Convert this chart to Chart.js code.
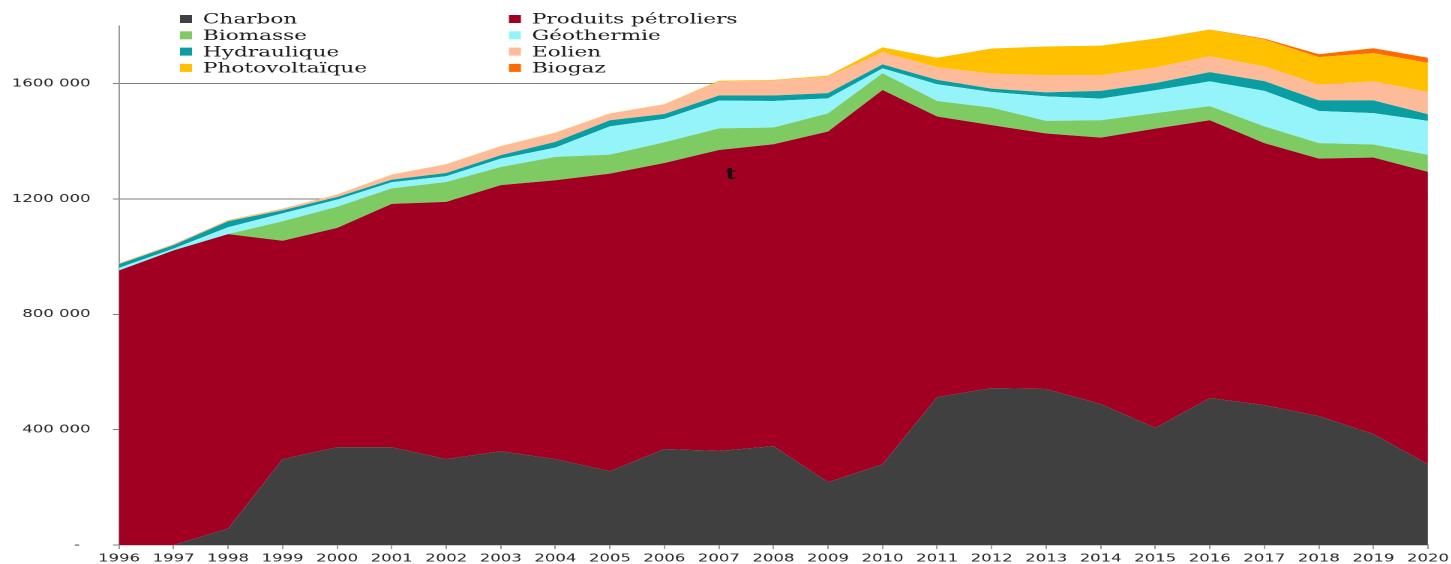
<!DOCTYPE html>
<html lang="fr">
<head>
<meta charset="utf-8">
<title>Consommation d'énergie par source</title>
<script src="https://cdn.jsdelivr.net/npm/chart.js@4.4.1/dist/chart.umd.min.js"></script>
<style>
    html, body { margin: 0; padding: 0; background: #fff; overflow: hidden; }
    /* the chart is drawn narrow and widened, which gives the broad lettering */
    #wrap { position: relative; width: 967.33px; height: 564px; transform: scaleX(1.5); transform-origin: 0 0; }
</style>
</head>
<body>
<div id="wrap"><canvas id="energy-chart"></canvas></div>
<script>
// Years on the x axis
const years = ['1996', '1997', '1998', '1999', '2000', '2001', '2002', '2003', '2004', '2005',
    '2006', '2007', '2008', '2009', '2010', '2011', '2012', '2013', '2014', '2015',
    '2016', '2017', '2018', '2019', '2020'];

// Consumption by source, stacked from bottom to top
const charbon = [0, 0, 57000, 298000, 339000, 339000, 298000, 325000, 298000, 256000,
    333000, 326000, 343000, 218000, 280000, 513000, 544000, 541000, 489000, 406000,
    510000, 485000, 447000, 385000, 280000];
const produitsPetroliers = [952000, 1022000, 1021000, 757000, 761000, 844000, 892000, 923000, 967000, 1032000,
    992000, 1044000, 1047000, 1216000, 1298000, 973000, 912000, 886000, 924000, 1038000,
    963000, 909000, 893000, 959000, 1014000];
const biomasse = [0, 0, 0, 68000, 73000, 54000, 69000, 63000, 81000, 66000,
    72000, 75000, 58000, 63000, 58000, 54000, 61000, 44000, 60000, 54000,
    49000, 58000, 54000, 45000, 59000];
const geothermie = [9000, 6000, 24000, 27000, 25000, 21000, 20000, 29000, 32000, 98000,
    81000, 96000, 92000, 52000, 17000, 58000, 54000, 85000, 75000, 79000,
    86000, 123000, 111000, 109000, 118000];
const hydraulique = [13000, 12000, 21000, 11000, 9000, 9000, 11000, 12000, 20000, 21000,
    17000, 18000, 19000, 18000, 14000, 15000, 12000, 14000, 27000, 25000,
    32000, 34000, 37000, 44000, 23000];
const eolien = [2000, 3000, 3000, 5000, 8000, 17000, 30000, 31000, 31000, 23000,
    33000, 48000, 52000, 57000, 42000, 44000, 52000, 59000, 54000, 54000,
    55000, 51000, 55000, 66000, 77000];
const photovoltaique = [1000, 1000, 1000, 1000, 1000, 1000, 1000, 1000, 1000, 1000,
    1000, 3000, 2000, 4000, 17000, 33000, 87000, 100000, 103000, 100000,
    92000, 93000, 95000, 98000, 101000];
const biogaz = [0, 0, 0, 0, 0, 0, 0, 0, 0, 0,
    0, 0, 0, 0, 0, 0, 0, 0, 0, 0,
    1000, 3000, 10000, 17000, 18000];

const seriesNames = ['Charbon', 'Produits pétroliers', 'Biomasse', 'Géothermie',
    'Hydraulique', 'Eolien', 'Photovoltaïque', 'Biogaz'];
const seriesData = [charbon, produitsPetroliers, biomasse, geothermie,
    hydraulique, eolien, photovoltaique, biogaz];
const seriesColors = ['#404040', '#a10023', '#7ecb63', '#94f4f9',
    '#0a9da2', '#fdbb99', '#ffc000', '#ff6a00'];

// Y axis ticks
const yTickValues = [0, 400000, 800000, 1200000, 1600000];
const yTickLabels = ['-  ', '400 000', '800 000', '1200 000', '1600 000'];

// Two-column legend above the plot, filled row by row
const legendPlugin = {
    id: 'twoColumnLegend',
    afterDraw(chart) {
        const ctx = chart.ctx;
        const colX = [120, 339.3];
        ctx.save();
        ctx.font = '14.4px "DejaVu Serif"';
        ctx.textBaseline = 'middle';
        ctx.textAlign = 'left';
        chart.data.datasets.forEach((ds, i) => {
            const x = colX[i % 2];
            const y = 19 + Math.floor(i / 2) * 16.3;
            ctx.fillStyle = ds.backgroundColor;
            ctx.fillRect(x, y - 4, 8, 8);
            ctx.fillStyle = '#1a1a1a';
            ctx.fillText(ds.label, x + 15.3, y + 1);
        });
        ctx.restore();
    }
};

// Stray letter sitting over the oil area
const strayLetterPlugin = {
    id: 'strayLetter',
    afterDatasetsDraw(chart) {
        const ctx = chart.ctx;
        const x = chart.scales.x.getPixelForValue(11) + 8;
        const y = chart.scales.y.getPixelForValue(1270000);
        ctx.save();
        ctx.font = 'bold 16px "DejaVu Serif"';
        ctx.fillStyle = '#111';
        ctx.textAlign = 'center';
        ctx.textBaseline = 'alphabetic';
        ctx.fillText('t', x, y);
        ctx.restore();
    }
};

const tickFont = { family: '"DejaVu Sans"', size: 11 };

// keep the plot area fixed, whatever the label overhang
function clearPadding(scale) {
    scale.paddingLeft = 0;
    scale.paddingRight = 0;
    scale.paddingTop = 0;
    scale.paddingBottom = 0;
}

const datasets = seriesNames.map((name, i) => ({
    label: name,
    data: seriesData[i],
    backgroundColor: seriesColors[i],
    borderColor: 'transparent',
    borderWidth: 0,
    pointRadius: 0,
    pointHoverRadius: 0,
    tension: 0,
    fill: i === 0 ? 'origin' : '-1'
}));

new Chart(document.getElementById('energy-chart'), {
    type: 'line',
    data: { labels: years, datasets: datasets },
    options: {
        responsive: true,
        maintainAspectRatio: false,
        animation: false,
        devicePixelRatio: 2,
        layout: { padding: { left: 0, right: 15.33, top: 26, bottom: 0 } },
        plugins: {
            legend: { display: false },
            tooltip: { enabled: false }
        },
        scales: {
            x: {
                offset: false,
                afterFit(scale) { scale.height = 19; clearPadding(scale); },
                border: { color: '#9a9a9a', width: 1 },
                grid: { drawOnChartArea: false, drawTicks: true, tickLength: 4, color: '#9a9a9a' },
                ticks: { autoSkip: false, maxRotation: 0, padding: 3, color: '#262626', font: tickFont }
            },
            y: {
                stacked: true,
                min: 0,
                max: 1800000,
                afterBuildTicks(scale) { scale.ticks = yTickValues.map(v => ({ value: v })); },
                afterFit(scale) { scale.width = 79.33; clearPadding(scale); },
                border: { color: '#9a9a9a', width: 1 },
                grid: { color: '#7f7f7f', lineWidth: 1, tickLength: 4 },
                ticks: {
                    padding: 15,
                    color: '#262626',
                    font: tickFont,
                    callback: (value, index) => yTickLabels[index]
                }
            }
        }
    },
    plugins: [legendPlugin, strayLetterPlugin]
});
</script>
</body>
</html>
